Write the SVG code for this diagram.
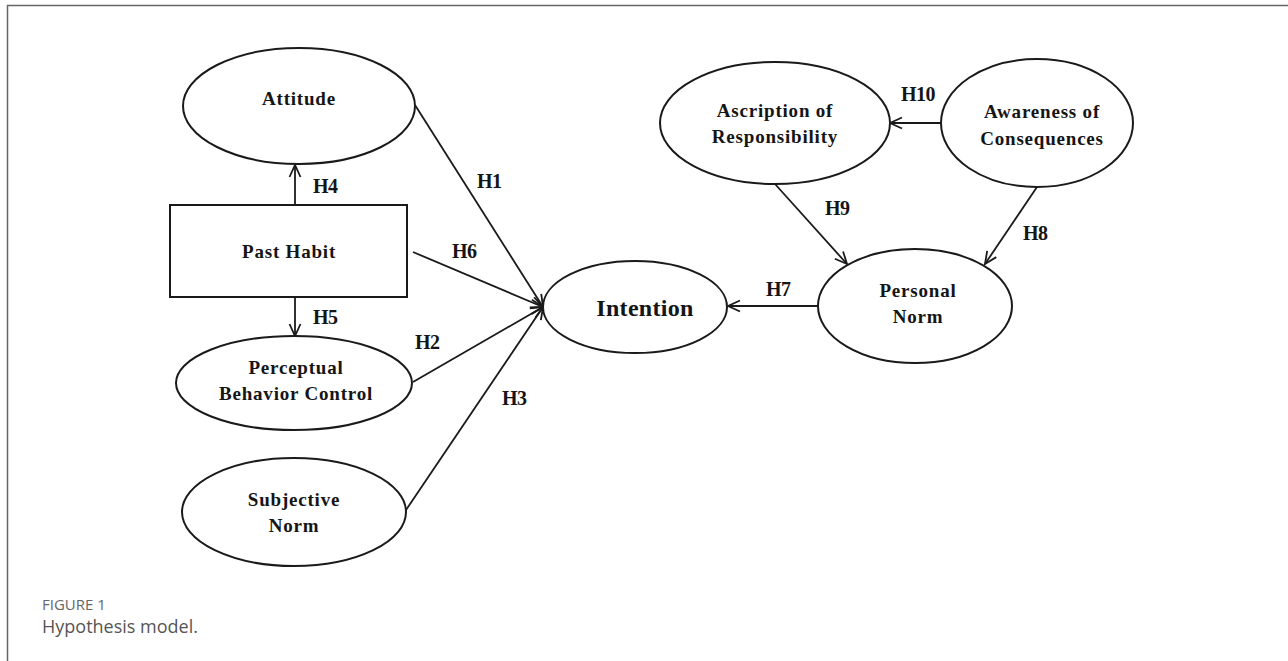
<svg xmlns="http://www.w3.org/2000/svg" width="1288" height="661" viewBox="0 0 1288 661">
<style>
.n{fill:#fff;stroke:#1a1a1a;stroke-width:2}
.t{font-family:"Liberation Serif","Times New Roman",serif;font-weight:bold;font-size:19px;fill:#151515;text-anchor:middle;letter-spacing:0.8px}
.h{font-family:"Liberation Serif","Times New Roman",serif;font-weight:bold;font-size:20px;fill:#151515;letter-spacing:-0.5px}
.c{stroke:#1a1a1a;stroke-width:1.8;fill:none;marker-end:url(#arr)}
.cap1{font-family:"Open Sans","Liberation Sans",sans-serif;font-size:15px;fill:#666}
.cap2{font-family:"Open Sans","Liberation Sans",sans-serif;font-size:18px;fill:#555}
</style>
<defs>
<marker id="arr" markerUnits="userSpaceOnUse" markerWidth="14" markerHeight="14" viewBox="0 0 14 14" refX="13" refY="7" orient="auto">
<path d="M1,1.5 L13,7 L1,12.5" fill="none" stroke="#1a1a1a" stroke-width="1.8"/>
</marker>
</defs>
<rect width="1288" height="661" fill="#fff"/>
<path d="M7.5,661 V5.5 H1288" fill="none" stroke="#666" stroke-width="1.5"/>

<g id="connectors">
<path class="c" d="M295,205 V165"/>
<path class="c" d="M295,297 V336"/>
<path class="c" d="M415,105 L543,307"/>
<path class="c" d="M413,252 L543,307"/>
<path class="c" d="M413,382 L543,307"/>
<path class="c" d="M406,510 L543,307"/>
<path class="c" d="M818,306 H728"/>
<path class="c" d="M942,123 H890"/>
<path class="c" d="M775,184 L847,264"/>
<path class="c" d="M1037,187 L985,264"/>
<text class="h" x="313" y="193">H4</text>
<text class="h" x="313" y="324">H5</text>
<text class="h" x="477" y="188">H1</text>
<text class="h" x="452" y="258">H6</text>
<text class="h" x="415" y="349">H2</text>
<text class="h" x="502" y="405">H3</text>
<text class="h" x="766" y="296">H7</text>
<text class="h" x="901" y="101">H10</text>
<text class="h" x="825" y="215">H9</text>
<text class="h" x="1023" y="240">H8</text>
</g>

<g id="attitude">
<ellipse class="n" cx="299" cy="106" rx="116" ry="58"/>
<text class="t" x="299" y="105">Attitude</text>
</g>
<g id="past-habit">
<rect class="n" x="170" y="205" width="237" height="92"/>
<text class="t" x="289" y="258">Past Habit</text>
</g>
<g id="pbc">
<ellipse class="n" cx="294" cy="383" rx="118" ry="47"/>
<text class="t" x="296" y="374">Perceptual</text>
<text class="t" x="296" y="400">Behavior Control</text>
</g>
<g id="subjective-norm">
<ellipse class="n" cx="294" cy="512" rx="112" ry="54"/>
<text class="t" x="294" y="506">Subjective</text>
<text class="t" x="294" y="532">Norm</text>
</g>
<g id="intention">
<ellipse class="n" cx="635" cy="307" rx="92" ry="46"/>
<text class="t" x="645" y="316" style="font-size:24px;letter-spacing:0.3px">Intention</text>
</g>
<g id="personal-norm">
<ellipse class="n" cx="915" cy="306" rx="97" ry="57"/>
<text class="t" x="918" y="297">Personal</text>
<text class="t" x="918" y="323">Norm</text>
</g>
<g id="ascription">
<ellipse class="n" cx="775" cy="123" rx="115" ry="61"/>
<text class="t" x="775" y="117">Ascription of</text>
<text class="t" x="775" y="143">Responsibility</text>
</g>
<g id="awareness">
<ellipse class="n" cx="1037" cy="123" rx="96" ry="64"/>
<text class="t" x="1042" y="118">Awareness of</text>
<text class="t" x="1042" y="145">Consequences</text>
</g>

<text class="cap1" x="42" y="610">FIGURE 1</text>
<text class="cap2" x="42" y="633">Hypothesis model.</text>
</svg>
